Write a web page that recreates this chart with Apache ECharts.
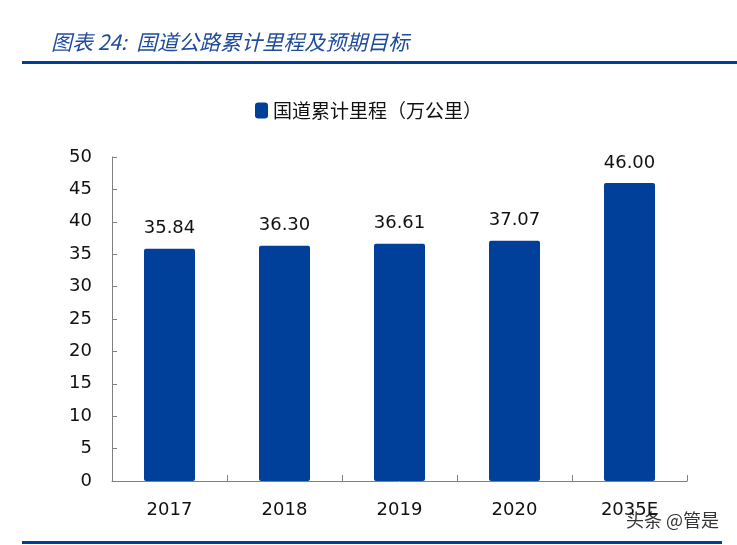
<!DOCTYPE html>
<html><head><meta charset="utf-8">
<script src="https://cdn.jsdelivr.net/npm/echarts@6/dist/echarts.min.js"></script>
<style>html,body{margin:0;padding:0;background:#fff}#c{width:737px;height:545px}</style>
</head><body><div id="c"></div>
<script>
const categories = ['2017', '2018', '2019', '2020', '2035E'];
const values = [35.84, 36.30, 36.61, 37.07, 46.00];
const seriesName = '国道累计里程（万公里）';
const titleText = '图表 24:  国道公路累计里程及预期目标';
const yTicks = { min: 0, max: 50, interval: 5 };

const chart = echarts.init(document.getElementById('c'));
const axisFont = 'Verdana, "DejaVu Sans", sans-serif';
chart.setOption({
  animation: false,
  backgroundColor: '#fff',
  title: {
    text: titleText, left: 46, top: 27,
    textStyle: { fontFamily: '"Noto Sans CJK SC"', fontStyle: 'italic', fontWeight: 'normal', fontSize: 21, color: '#1F4B9C' }
  },
  legend: {
    top: 96, left: 'center',
    itemWidth: 13, itemHeight: 16, itemGap: 5,
    textStyle: { fontFamily: '"Noto Sans CJK SC"', fontSize: 19, color: '#111' },
    data: [{ name: seriesName, icon: 'roundRect' }]
  },
  grid: { left: 112, right: 50, top: 157, bottom: 64 },
  xAxis: {
    type: 'category', data: categories,
    axisLine: { lineStyle: { color: '#808080', width: 1 } },
    axisTick: { show: true, inside: true, length: 6, alignWithLabel: false, lineStyle: { color: '#808080' } },
    axisLabel: { fontFamily: axisFont, fontSize: 18, color: '#111', margin: 20 }
  },
  yAxis: {
    type: 'value', min: yTicks.min, max: yTicks.max, interval: yTicks.interval,
    axisLine: { show: true, lineStyle: { color: '#808080', width: 1 } },
    axisTick: { show: true, inside: true, length: 5, lineStyle: { color: '#808080' } },
    splitLine: { show: false },
    axisLabel: { fontFamily: axisFont, fontSize: 18, color: '#111', margin: 20 }
  },
  series: [{
    name: seriesName, type: 'bar', data: values, barWidth: 51,
    itemStyle: { color: '#00409A', borderRadius: 2 },
    label: { show: true, position: 'top', distance: 11, fontFamily: axisFont, fontSize: 18, color: '#111',
      formatter: p => p.value.toFixed(2) }
  }],
  graphic: [
    { type: 'rect', shape: { x: 22, y: 61, width: 715, height: 3 }, style: { fill: '#00409A' } },
    { type: 'rect', shape: { x: 22, y: 541, width: 700, height: 3 }, style: { fill: '#00409A' } },
    { type: 'text', left: 625, top: 510, style: { text: '头条 @管是', fontFamily: '"Noto Sans CJK SC"', fontSize: 18, fill: '#333', stroke: '#fff', lineWidth: 2 } }
  ]
});
</script></body></html>
